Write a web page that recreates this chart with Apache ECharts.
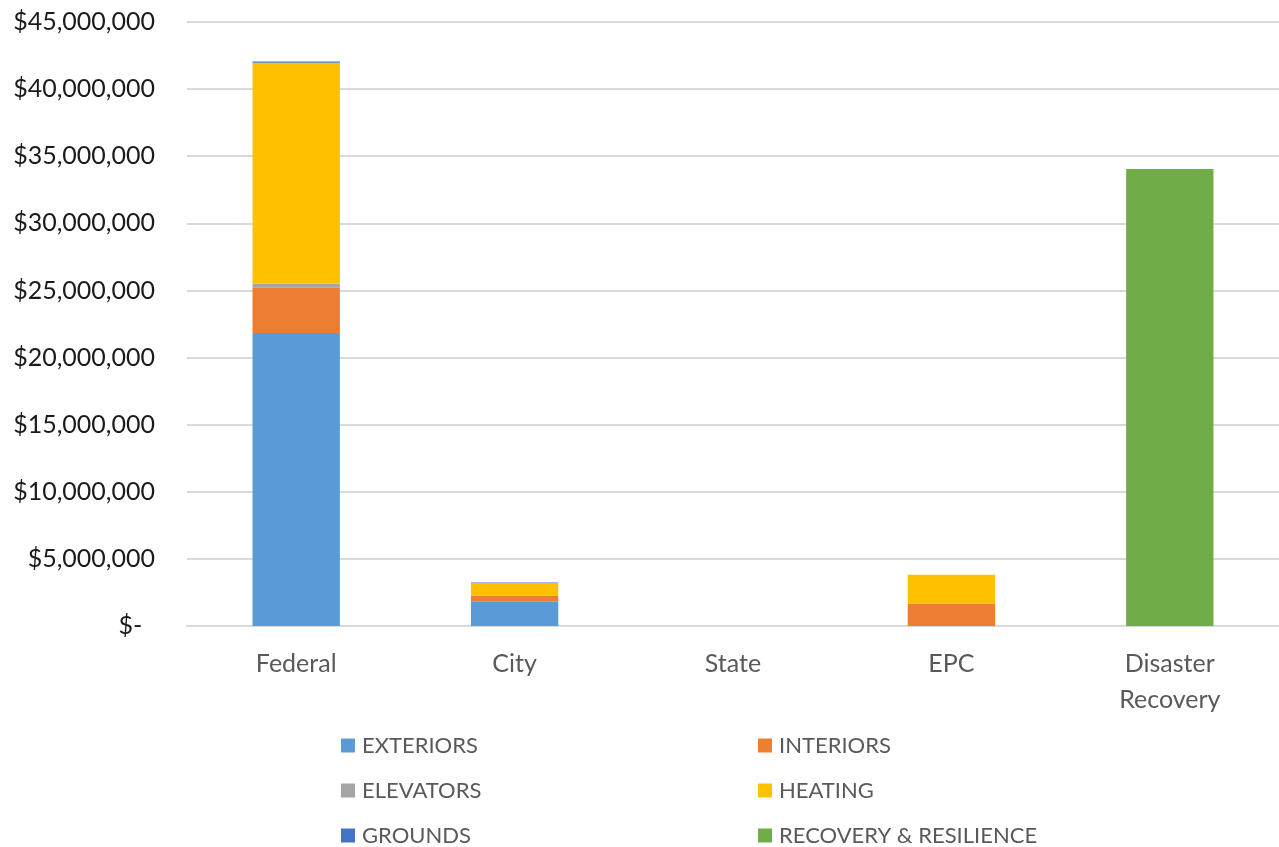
<!DOCTYPE html>
<html><head><meta charset="utf-8">
<script src="https://cdn.jsdelivr.net/npm/echarts@6/dist/echarts.min.js"></script>
<style>html,body{margin:0;padding:0;background:#fff}#c{width:1279px;height:847px}</style>
</head><body><div id="c"></div>
<script>
const categories = ["Federal", "City", "State", "EPC", "Disaster\nRecovery"];
const exteriors = [21830000, 1810000, 0, 0, 0];
const interiors = [3380000, 450000, 0, 1660000, 0];
const elevators = [300000, 0, 0, 0, 0];
const heating = [16450000, 940000, 0, 2160000, 0];
const grounds = [100000, 50000, 0, 0, 0];
const recovery = [0, 0, 0, 0, 34050000];
const seriesNames = ["EXTERIORS", "INTERIORS", "ELEVATORS", "HEATING", "GROUNDS", "RECOVERY & RESILIENCE"];
const seriesColors = ["#5B9BD5", "#ED7D31", "#A5A5A5", "#FFC000", "#4472C4", "#70AD47"];
const seriesData = [exteriors, interiors, elevators, heating, grounds, recovery];

const font = "Lato, 'Open Sans', sans-serif";
const chart = echarts.init(document.getElementById('c'));
const legendCommon = {
  orient: 'vertical', top: 728, height: 120, itemWidth: 14, itemHeight: 14, itemGap: 20, icon: 'rect',
  textStyle: { fontFamily: font, fontSize: 22, color: '#595959', lineHeight: 25, padding: [0, 0, 0, 2] }
};
chart.setOption({
  animation: false,
  grid: { left: 187, right: 0, top: 22, bottom: 221, containLabel: false },
  legend: [
    Object.assign({ left: 336, data: ["EXTERIORS", "ELEVATORS", "GROUNDS"] }, legendCommon),
    Object.assign({ left: 753, data: ["INTERIORS", "HEATING", "RECOVERY & RESILIENCE"] }, legendCommon)
  ],
  xAxis: {
    type: 'category', data: categories,
    axisLine: { lineStyle: { color: '#D9D9D9', width: 2 } },
    axisTick: { show: false },
    axisLabel: { fontFamily: font, fontSize: 25, color: '#595959', margin: 20, lineHeight: 36 }
  },
  yAxis: {
    type: 'value', min: 0, max: 45000000, interval: 5000000,
    axisLine: { show: false }, axisTick: { show: false },
    splitLine: { lineStyle: { color: '#D9D9D9', width: 2 } },
    axisLabel: {
      fontFamily: font, fontSize: 25, color: '#1a1a1a', margin: 32,
      formatter: v => v === 0 ? '$-  ' : '$' + v.toLocaleString('en-US')
    }
  },
  series: seriesNames.map((n, i) => ({
    name: n, type: 'bar', stack: 'total', barWidth: '40%',
    itemStyle: { color: seriesColors[i] },
    data: seriesData[i]
  }))
});
</script></body></html>
